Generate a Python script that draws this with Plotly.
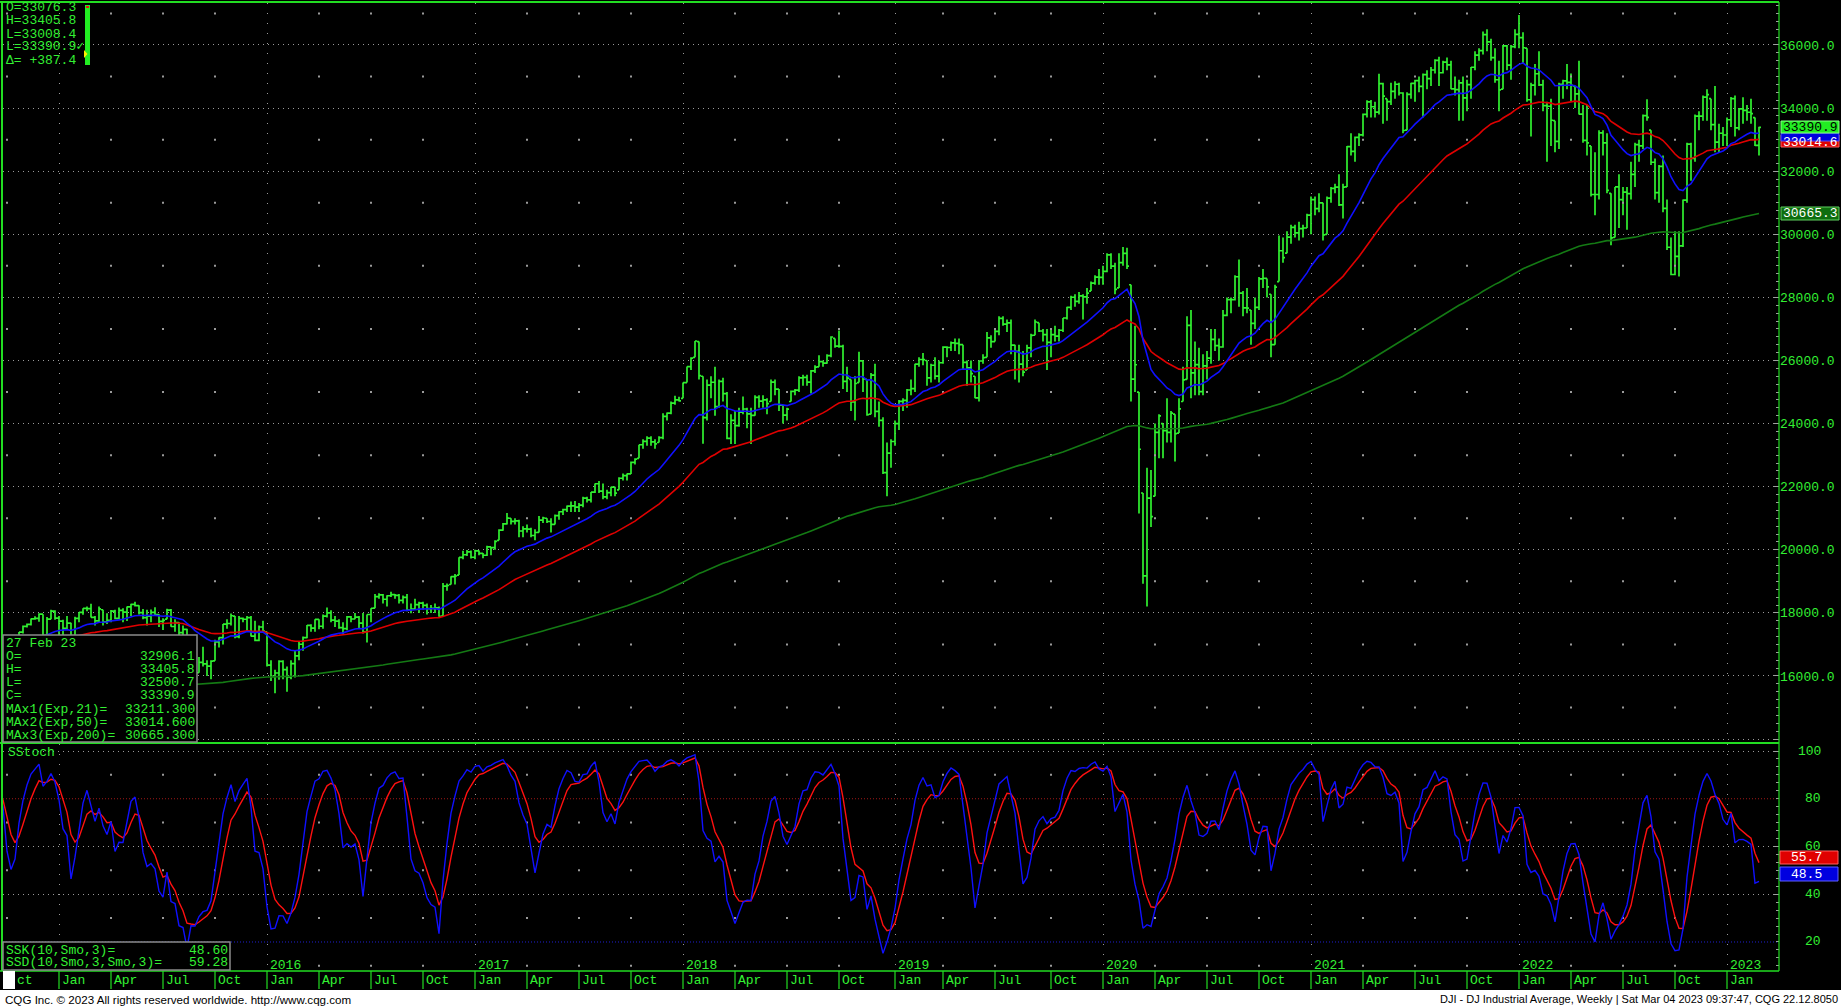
import numpy as np
import pandas as pd
import plotly.graph_objects as go

# ---------------- data (weekly DJI bars) ----------------
first_week = "2014-07-07"

close_2014 = [16944,17100,16961,16493, 16554,16663,17001,17098, 17138,16988,17280,17113,17009,
              16544,16380,16805,17391, 17573,17634,17810,17828, 17958,17280,17804,18053,17833]
high_2014 = [17080,17150,17100,17000, 16600,16720,17100,17150, 17160,17140,17350,17300,17120,
             17100,16600,16810,17395, 17600,17660,17820,17894, 17990,17960,17870,18103,18080]
low_2014 = [16850,16880,16900,16460, 16330,16500,16660,16990, 17000,16950,16950,16950,16800,
            16540,15855,16320,16780, 17350,17540,17600,17780, 17720,17240,17060,17800,17780]

close_2015 = [17737,17511,17673,17165, 17824,18019,18140,18133, 17856,17749,18128,17713,17763,
              18057,17826,18080,18024, 18191,18272,18232,18011, 17849,17899,18015,17947,17731,
              17760,18086,17568,17690, 17373,17477,16460,16643,16102, 16433,16385,16315,16472,
              17084,17216,17647,17664, 17910,17245,17824,17798,17848, 17265,17128,17553,17425]
high_2015 = [17900,17780,17900,17690, 17880,18020,18150,18200, 18290,17900,18200,18100,17990,
             18090,18100,18170,18150, 18200,18290,18350,18240, 18120,18100,18110,18180,17960,
             17830,18130,18120,17800, 17700,17600,17500,16650,16650, 16600,16930,16500,16500,
             17150,17230,17650,17800, 17980,17900,17900,17850,17900, 17900,17750,17600,17750]
low_2015 = [17260,17130,17460,17135, 17040,17700,17940,18050, 17850,17600,17700,17600,17650,
            17700,17800,17800,17700, 17740,17900,18200,17950, 17800,17600,17700,17900,17550,
            17460,17800,17560,17400, 17300,17250,16450,15370,16000, 16100,16300,16000,15900,
            16480,16900,17000,17500, 17600,17200,17200,17700,17400, 17250,17100,17100,17400]

close_2016 = [16346,15988,16094,16466, 16204,15974,16392,16640,17006, 17213,17602,17516,17792,
              17577,17897,18003,17773, 17740,17535,17500,17873,17807, 17865,17675,17400,17949,
              18147,18516,18571,18432, 18543,18577,18552,18395,18492, 18085,18124,18261,18308,
              18240,18138,18145,18161,17888, 18847,18868,19152,19170, 19757,19843,19934,19763]
high_2016 = [17400,16500,16200,16500, 16500,16300,16500,16800,17100, 17250,17620,17640,17800,
             17800,17950,18170,18080, 17900,17800,17700,17900,17900, 18000,17900,18000,17950,
             18150,18600,18620,18600, 18560,18670,18600,18600,18550, 18600,18300,18450,18350,
             18350,18300,18250,18300,18200, 18950,18930,19160,19230, 19760,19970,19990,19980]
low_2016 = [16300,15840,15450,15880, 15900,15500,15900,15950,16500, 16800,17200,17400,17400,
            17480,17500,17850,17700, 17550,17500,17330,17450,17700, 17800,17500,17350,17060,
            17700,18150,18450,18300, 18200,18500,18450,18300,18300, 18050,17990,18100,18000,
            18100,17950,18000,18000,17880, 17900,18700,18900,18900, 19200,19700,19800,19720]

close_2017 = [19964,19886,19827,20094,20071, 20269,20624,20822,21005, 20903,20914,20596,20663,
              20656,20453,20548,20941, 21007,20896,20805,21080,21206, 21271,21384,21395,21350,
              21414,21638,21580,21830,22093, 21858,21674,21814,21988, 21797,22268,22350,22405,
              22773,22871,23329,23434,23539, 23422,23358,23558,24231, 24329,24651,24754,24719]
high_2017 = [19999,19980,19900,20130,20100, 20300,20650,20850,21170, 21000,21000,20950,20750,
             20800,20700,20650,21070, 21050,21000,21000,21120,21220, 21300,21400,21530,21550,
             21480,21680,21680,21830,22100, 22180,22100,21900,22000, 22000,22300,22420,22420,
             22800,22900,23330,23500,23600, 23600,23500,23600,24330, 24350,24700,24880,24850]
low_2017 = [19700,19830,19730,19800,19830, 20000,20300,20600,20800, 20800,20800,20400,20400,
            20550,20400,20300,20550, 20850,20850,20550,20800,20950, 21100,21200,21200,21200,
            21200,21350,21500,21500,21800, 21800,21600,21600,21700, 21700,21900,22200,22200,
            22400,22700,22900,23200,23300, 23300,23200,23400,23500, 24100,24300,24600,24700]

close_2018 = [25296,25803,26072,26617,25521, 24191,25219,25310,24539, 25336,24947,23533,24103,
              23933,24360,24463,24311,24263, 24831,24715,24753,24635, 25317,25090,24581,24271,
              24456,25019,25058,25451,25463, 25313,25669,25790,25965, 25917,26155,26744,26458,
              26447,25340,25444,24688,25270, 25989,25413,24286,25538, 24389,24100,22445,23062,23433]
high_2018 = [25300,25810,26100,26620,26600, 25500,25400,25500,25800, 25400,25450,25000,24300,
             24400,24500,24860,24500,24500, 24900,24900,24900,24800, 25400,25400,25100,24600,
             24500,25050,25100,25500,25550, 25550,25700,25850,26170, 26000,26200,26770,26700,
             26950,26500,25800,25400,25500, 26280,26000,25400,25600, 25900,24700,24200,23400,23500]
low_2018 = [24800,25300,25700,26100,25400, 23360,24100,24800,24250, 24500,24700,23500,23350,
            23350,23900,24300,23850,23350, 24250,24500,24500,24300, 24700,24900,24400,24000,
            24100,24700,24900,25000,25200, 25200,24950,25600,25800, 25800,25900,26100,26400,
            26400,25100,25000,24400,24100, 25300,25000,24250,24300, 24200,23900,22400,21700,22600]

close_2019 = [23996,24706,24737,25064, 25106,25883,26031,26026, 25450,25849,25502,25929,
              26425,26412,26559,26543,26505, 25942,25764,25586,24815, 25984,26090,26719,26600,
              26922,27332,27154,27192,26485, 26287,25886,25629,26403, 26797,27220,26935,26820,26573,
              26817,26770,26958,27347, 27681,28005,27876,28051, 28015,28135,28455,28645,28634]
high_2019 = [24100,24750,24800,25100, 25400,25900,26100,26240, 26000,25900,26100,26000,
             26450,26450,26600,26700,26700, 26500,26000,26000,25500, 26000,26200,26900,26800,
             27000,27400,27400,27300,27300, 26500,26500,26300,26500, 26850,27300,27200,27000,27000,
             27000,27100,27000,27350, 27700,28050,28100,28170, 28100,28300,28500,28700,28900]
low_2019 = [23300,23800,24400,24500, 24900,25000,25800,25850, 25200,25300,25400,25300,
            25900,26100,26300,26300,26200, 25700,25200,25300,24800, 24700,25900,26100,26400,
            26600,26800,27100,26900,26200, 25400,25300,25500,25700, 26100,26800,26900,26600,25700,
            26100,26600,26600,26900, 27300,27600,27700,27800, 27300,27800,28200,28400,28400]

close_2020 = [28823,29348,28990,28256, 29102,29398,28992,25409, 25865,23186,19174,21637,21053,
              23719,24242,23775,23724, 24331,23685,24465,25383, 27111,25606,25871,25016,25827,
              26075,26672,26470,26428, 27433,27931,27930,28654,28133, 27666,27657,27174,27683,
              28587,28606,28335,26502, 28323,29479,29263,29910,30218, 30046,30179,30200,30606]
high_2020 = [29000,29400,29400,29100, 29400,29600,29570,28400, 27100,25000,21800,22600,22530,
             24000,24300,24000,24800, 24400,24300,24800,25800, 27400,27600,26600,26400,26200,
             26300,27000,27000,26700, 27600,28000,28000,28700,29200, 28200,28300,27600,28000,
             28650,28900,28600,28100, 28400,29960,29900,30100,30300, 30300,30400,30300,30650]
low_2020 = [28400,28800,28900,28100, 28300,29000,28900,24700, 25000,21150,18920,18200,20720,
            21700,22900,22900,23400, 23400,22800,23700,24700, 25400,24800,24900,24900,24900,
            25400,25900,26300,26000, 26400,27400,27500,27900,27700, 27400,27500,26500,27000,
            27600,28300,28000,26100, 26500,28500,29100,29400,29700, 29900,29800,29900,30200]

close_2021 = [31098,30814,30997,29983, 31148,31458,31494,30932, 31496,32779,32628,33072,33153,
              33800,34200,34043,33874, 34778,34382,34208,34529,34756, 34479,33290,34433,34786,
              34870,34687,35061,34935, 35208,35515,35120,35455,35369, 34608,34584,34798,34326,
              34746,35295,35677,35820, 36328,36100,35602,34899,34580, 35971,35365,35951,36338]
high_2021 = [31200,31200,31300,31000, 31200,31500,31600,31900, 31600,32800,33200,33100,33200,
             33830,34250,34260,34200, 35090,34800,34300,34800,34850, 34800,34500,34500,34800,
             34900,35000,35100,35200, 35300,35550,35630,35500,35600, 35500,35000,34900,35000,
             34900,35300,35800,35900, 36430,36500,36200,35900,35500, 36000,36000,36000,36500]
low_2021 = [30000,30600,30700,29800, 30000,31000,31300,30900, 30500,31500,32500,32300,32800,
            33100,33700,33700,33700, 33800,33500,33600,34100,34300, 34400,33200,33300,34300,
            34200,34500,33700,34600, 34700,35100,34700,35100,35200, 34600,34400,33600,33600,
            33900,34300,35200,35500, 35700,35800,35500,34800,33900, 34600,35200,34900,35900]

close_2022 = [36231,35912,34265,34725,35089, 34738,34079,34059,33615, 32945,34755,34862,34818,
              34721,34451,33811,32977, 32899,31262,31262,33213,32900, 31393,29888,31500,31097,
              31338,31288,31899,32845, 32803,33761,33706,32283,31318, 32151,30822,29590,28725,
              29297,29635,31083,32861,32403, 33748,33746,34347,34430, 33477,32920,33203,33147]
high_2022 = [36950,36400,35900,34800,35400, 35800,34900,34200,34300, 33600,34800,34900,35400,
             35100,34700,35500,34100, 34100,32800,32600,33300,33300, 33200,31300,31500,31900,
             31500,31500,32300,32900, 33000,33800,34280,33300,32400, 32200,32500,31100,29900,
             30100,30100,31100,32900,32900, 33800,33900,34400,34600, 34300,34700,33500,33400]
low_2022 = [35900,35400,34200,33100,34400, 34700,33900,32300,32800, 32600,32700,34300,34600,
            34200,34000,33800,32900, 32500,31200,30600,31100,32500, 31300,29650,29900,30200,
            30600,30140,31100,31500, 32300,32700,33600,32200,31100, 31000,30700,29500,28700,
            28700,28660,29600,31000,31700, 32300,33300,33600,33600, 33300,32600,32600,32800]

close_2023 = [33631,34303,33375,33978,33926, 33869,33827,32817,33391]
high_2023 = [33700,34350,34400,34000,34340, 34100,34300,33700,33406]
low_2023 = [32800,33400,33100,33300,33500, 33600,33500,32800,32501]

closes = (close_2014 + close_2015 + close_2016 + close_2017 + close_2018 + close_2019 +
          close_2020 + close_2021 + close_2022 + close_2023)
highs = (high_2014 + high_2015 + high_2016 + high_2017 + high_2018 + high_2019 +
         high_2020 + high_2021 + high_2022 + high_2023)
lows = (low_2014 + low_2015 + low_2016 + low_2017 + low_2018 + low_2019 +
        low_2020 + low_2021 + low_2022 + low_2023)
assert len(closes) == len(highs) == len(lows), (len(closes), len(highs), len(lows))

ema_periods = [21, 50, 200]
ema200_start_level = 14200          # level of the 200-week EMA at the first (off-screen) bar
stoch_length, stoch_smooth = 10, 3

readout_rows = ["O=33076.3", "H=33405.8", "L=33008.4", "L=33390.9\u2713", "\u0394= +387.4"]
info_title = "27 Feb 23"
info_rows = [("O=", "32906.1"), ("H=", "33405.8"), ("L=", "32500.7"), ("C=", "33390.9"),
             ("MAx1(Exp,21)=", "33211.300"), ("MAx2(Exp,50)=", "33014.600"),
             ("MAx3(Exp,200)=", "30665.300")]
stoch_rows = [("SSK(10,Smo,3)=", "48.60"), ("SSD(10,Smo,3,Smo,3)=", "59.28")]
price_ticks = list(range(14000, 36001, 2000))
stoch_ticks = [20, 40, 60, 80, 100]
month_names = {1: "Jan", 4: "Apr", 7: "Jul", 10: "Oct"}
footer_left = "CQG Inc. \u00a9 2023 All rights reserved worldwide. http://www.cqg.com"
footer_right = "DJI - DJ Industrial Average, Weekly | Sat Mar 04 2023 09:37:47, CQG 22.12.8050"

# ---------------- derived series ----------------
dates = pd.date_range(first_week, periods=len(closes), freq="7D")
C = np.array(closes, float); H = np.array(highs, float); L = np.array(lows, float)
prev_close = np.concatenate([[C[0]], C[:-1]])
O = np.clip(prev_close, L, H)         # weekly open taken at the prior close


def ema(values, period, start=None):
    a = 2.0 / (period + 1)
    prev = values[0] if start is None else start
    out = []
    for v in values:
        prev = prev + a * (v - prev)
        out.append(prev)
    return np.array(out)


ema21 = ema(C, 21)
ema50 = ema(C, 50)
ema200 = ema(C, 200, ema200_start_level)

hh = pd.Series(H).rolling(stoch_length).max()
ll = pd.Series(L).rolling(stoch_length).min()
fast_k = (pd.Series(C) - ll) / (hh - ll) * 100
ssk = fast_k.ewm(alpha=1.0 / stoch_smooth, adjust=False).mean()
ssd = ssk.ewm(alpha=1.0 / stoch_smooth, adjust=False).mean()

# ---------------- layout constants ----------------
W, HGT = 1841, 1008
PL, PR, PT, PB = 3, 1779, 3, 971
X_RANGE = ["2014-09-29", "2023-04-03"]
PRICE_RANGE = [13876, 37331]
STOCH_RANGE = [7.85, 102.93]
PRICE_BOTTOM, STOCH_TOP = 743, 744

GREEN_TXT = "#33f033"
BAR = "#30f030"
GRID = "#9a9a9a"
TICK = "#a0a0a0"
MONO = "Liberation Mono, DejaVu Sans Mono, monospace"


def PX(x):
    return (x - PL) / (PR - PL)


def PY(y):
    return (PB - y) / (PB - PT)


x0 = pd.Timestamp(X_RANGE[0])
quarter_starts = []
for i, d in enumerate(dates):
    if d.month in month_names and (i == 0 or dates[i - 1].month != d.month) and d >= x0:
        quarter_starts.append(d)
year_starts = [d for d in quarter_starts if d.month == 1]
non_year_q = [d for d in quarter_starts if d.month != 1]

fig = go.Figure()

# sparse CQG grid marks
dot_x, dot_y = [], []
for d in non_year_q:
    for lv in range(15000, 38000, 2000):
        dot_x.append(d); dot_y.append(lv)
fig.add_trace(go.Scatter(x=dot_x, y=dot_y, mode="markers", xaxis="x", yaxis="y",
                         marker=dict(symbol="square", size=2, color=GRID, line=dict(width=0)),
                         hoverinfo="skip", showlegend=False))
sdot_x, sdot_y = [], []
for d in non_year_q:
    for lv in [10, 30, 50, 70, 90]:
        sdot_x.append(d); sdot_y.append(lv)
fig.add_trace(go.Scatter(x=sdot_x, y=sdot_y, mode="markers", xaxis="x2", yaxis="y2",
                         marker=dict(symbol="square", size=2, color=GRID, line=dict(width=0)),
                         hoverinfo="skip", showlegend=False))

fig.add_trace(go.Ohlc(x=dates, open=O, high=H, low=L, close=C, xaxis="x", yaxis="y",
                      increasing=dict(line=dict(color=BAR, width=1.7)),
                      decreasing=dict(line=dict(color=BAR, width=1.7)),
                      tickwidth=0.5, hoverinfo="skip", showlegend=False))
fig.add_trace(go.Scatter(x=dates, y=ema200, mode="lines", line=dict(color="#147a14", width=1.6),
                         xaxis="x", yaxis="y", hoverinfo="skip", showlegend=False))
fig.add_trace(go.Scatter(x=dates, y=ema50, mode="lines", line=dict(color="#e00000", width=1.6),
                         xaxis="x", yaxis="y", hoverinfo="skip", showlegend=False))
fig.add_trace(go.Scatter(x=dates, y=ema21, mode="lines", line=dict(color="#1010ff", width=1.6),
                         xaxis="x", yaxis="y", hoverinfo="skip", showlegend=False))

fig.add_trace(go.Scatter(x=dates, y=ssd, mode="lines", line=dict(color="#ff1010", width=1.4),
                         xaxis="x2", yaxis="y2", hoverinfo="skip", showlegend=False))
fig.add_trace(go.Scatter(x=dates, y=ssk, mode="lines", line=dict(color="#1010ff", width=1.4),
                         xaxis="x2", yaxis="y2", hoverinfo="skip", showlegend=False))

xcommon = dict(range=X_RANGE, type="date", showticklabels=False, ticks="", tickmode="array",
               tickvals=year_starts, showgrid=True, gridcolor=GRID, griddash="1px,9px",
               gridwidth=1, zeroline=False, showline=False)
fig.update_layout(
    width=W, height=HGT, margin=dict(l=PL, r=W - PR, t=PT, b=HGT - PB, pad=0),
    paper_bgcolor="black", plot_bgcolor="black", showlegend=False,
    font=dict(family=MONO, color=GREEN_TXT, size=13),
    xaxis=dict(**xcommon, anchor="y", domain=[0, 1], rangeslider=dict(visible=False)),
    xaxis2=dict(**xcommon, anchor="y2", domain=[0, 1], matches="x"),
    yaxis=dict(domain=[PY(PRICE_BOTTOM), 1], range=PRICE_RANGE, side="right", anchor="x",
               tickmode="array", tickvals=price_ticks,
               ticktext=["" if t == 14000 else f"{t:.1f}" for t in price_ticks],
               ticks="inside", ticklen=5, tickcolor=TICK, tickwidth=1,
               tickfont=dict(family=MONO, size=13, color=GREEN_TXT),
               showgrid=True, gridcolor=GRID, griddash="1px,4px", gridwidth=1, zeroline=False,
               minor=dict(tickmode="linear", tick0=0, dtick=250, ticks="inside", ticklen=3,
                          tickcolor=TICK, showgrid=False)),
    yaxis2=dict(domain=[0, PY(STOCH_TOP)], range=STOCH_RANGE, side="right", anchor="x2",
                tickmode="array", tickvals=[40, 60, 100], showticklabels=False,
                ticks="inside", ticklen=5, tickcolor=TICK,
                showgrid=True, gridcolor=GRID, griddash="1px,4px", gridwidth=1, zeroline=False,
                minor=dict(tickmode="linear", tick0=0, dtick=20 / 6, ticks="inside", ticklen=3,
                           tickcolor=TICK, showgrid=False)),
)

shapes = []


def rect(x0_, y0_, x1_, y1_, fill, line=None, lw=1, layer="above"):
    shapes.append(dict(type="rect", xref="paper", yref="paper", x0=PX(x0_), x1=PX(x1_),
                       y0=PY(y1_), y1=PY(y0_), fillcolor=fill, layer=layer,
                       line=dict(color=line or fill, width=lw if line else 0)))


def hline(y, x0_, x1_, color, width, dash="solid"):
    shapes.append(dict(type="line", xref="paper", yref="paper", x0=PX(x0_), x1=PX(x1_),
                       y0=PY(y), y1=PY(y), line=dict(color=color, width=width, dash=dash),
                       layer="above"))


def vline(x, y0_, y1_, color, width):
    shapes.append(dict(type="line", xref="paper", yref="paper", x0=PX(x), x1=PX(x),
                       y0=PY(y0_), y1=PY(y1_), line=dict(color=color, width=width), layer="above"))


# stochastic reference lines
shapes.append(dict(type="line", xref="paper", yref="y2", x0=0, x1=1, y0=80, y1=80,
                   line=dict(color="#a01818", width=1, dash="1px,2px"), layer="below"))
shapes.append(dict(type="line", xref="paper", yref="y2", x0=0, x1=1, y0=20, y1=20,
                   line=dict(color="#2020d0", width=1, dash="1px,2px"), layer="below"))

# frame
hline(2, 0, PR, "#22dd22", 2)
vline(2, 2, PB, "#22dd22", 2)
vline(PR, 2, PB, "#22dd22", 1.2)
hline(743, 0, PR, "#22dd22", 2)
hline(PB, 0, PR, "#22dd22", 1.5)

# time band separators
for d in quarter_starts:
    shapes.append(dict(type="line", xref="x", yref="paper", x0=d, x1=d, y0=PY(989), y1=PY(PB),
                       line=dict(color="#22dd22", width=1.2), layer="above"))
rect(3, 971, 15, 989, "white")
rect(-2, 990, W + 2, HGT + 2, "white")

# info boxes
rect(3, 635, 197, 742, "black", "#8a8a8a", 1.5)
rect(3, 942, 230, 970, "black", "#8a8a8a", 1.5)

# readout bar
rect(85, 5, 90, 65, "#22ee22")
rect(86, 6, 89, 8, "#ee1111")
shapes.append(dict(type="path", xref="paper", yref="paper",
                   path=f"M {PX(84)} {PY(50)} L {PX(87.5)} {PY(54)} L {PX(84)} {PY(58)} Z",
                   fillcolor="#ffee00", line=dict(width=0), layer="above"))

# price tags
rect(1781, 135, 1839, 147, "#e00000", "#ff6060", 1)
rect(1781, 133, 1839, 141, "#0000e0", "#5050ff", 1)
rect(1781, 121, 1839, 133, "#22ee22", "#88ff88", 1)
rect(1781, 207, 1839, 220, "#0e6e0e", "#60d060", 1)
# stochastic tags
rect(1780, 851, 1838, 864, "#e00000", "#ff6060", 1)
rect(1780, 867, 1838, 881, "#0000e0", "#6060ff", 1)

fig.update_layout(shapes=shapes)


def txt(s, x, y, anchor="left", color=GREEN_TXT, size=13, family=MONO, xref="paper",
        yref="paper", xshift=0):
    fig.add_annotation(text=s, x=PX(x) if xref == "paper" else x,
                       y=PY(y) if yref == "paper" else y, xref=xref, yref=yref,
                       xanchor=anchor, yanchor="middle", showarrow=False, borderpad=0,
                       xshift=xshift, font=dict(family=family, size=size, color=color))


for i, s in enumerate(readout_rows):
    txt(s, 5, 8 + i * 13)

txt(info_title, 5, 643)
for i, (lab, val) in enumerate(info_rows):
    txt(lab, 5, 656 + i * 13.3)
    txt(val, 196, 656 + i * 13.3, anchor="right")

for i, (lab, val) in enumerate(stoch_rows):
    txt(lab, 5, 950 + i * 12.5)
    txt(val, 229, 950 + i * 12.5, anchor="right")

txt("SStoch", 7, 752)

for v in stoch_ticks:
    fig.add_annotation(text=str(v), x=PX(1822), y=v, xref="paper", yref="y2", xanchor="right",
                       yanchor="middle", showarrow=False, borderpad=0,
                       font=dict(family=MONO, size=13, color=GREEN_TXT))

# month / year labels
for j, d in enumerate(quarter_starts):
    if j == 0:
        txt("ct", 16, 980)
    else:
        fig.add_annotation(text=month_names[d.month], x=d, y=PY(980), xref="x", yref="paper",
                           xanchor="left", yanchor="middle", xshift=2, showarrow=False,
                           borderpad=0, font=dict(family=MONO, size=13, color=GREEN_TXT))
for d in year_starts:
    if d.year < 2016:
        continue
    fig.add_annotation(text=str(d.year), x=d, y=PY(965), xref="x", yref="paper",
                       xanchor="left", yanchor="middle", xshift=2, showarrow=False,
                       borderpad=0, font=dict(family=MONO, size=13, color=GREEN_TXT))

# tag texts
txt("33014.6", 1810, 142, anchor="center", color="white")
txt("33390.9", 1810, 127, anchor="center", color="black")
txt("30665.3", 1810, 213.5, anchor="center", color="white")
txt("55.7", 1823, 857.5, anchor="right", color="white")
txt("48.5", 1823, 874, anchor="right", color="white")

# footer
txt(footer_left, 4, 999, color="black", size=11.6, family="Liberation Sans, Arial, sans-serif")
txt(footer_right, 1839, 999, anchor="right", color="black", size=11,
    family="Liberation Sans, Arial, sans-serif")

fig.write_html("out.html", config={"displayModeBar": False},
               post_script="document.body.style.margin='0px';document.body.style.overflow='hidden';")
